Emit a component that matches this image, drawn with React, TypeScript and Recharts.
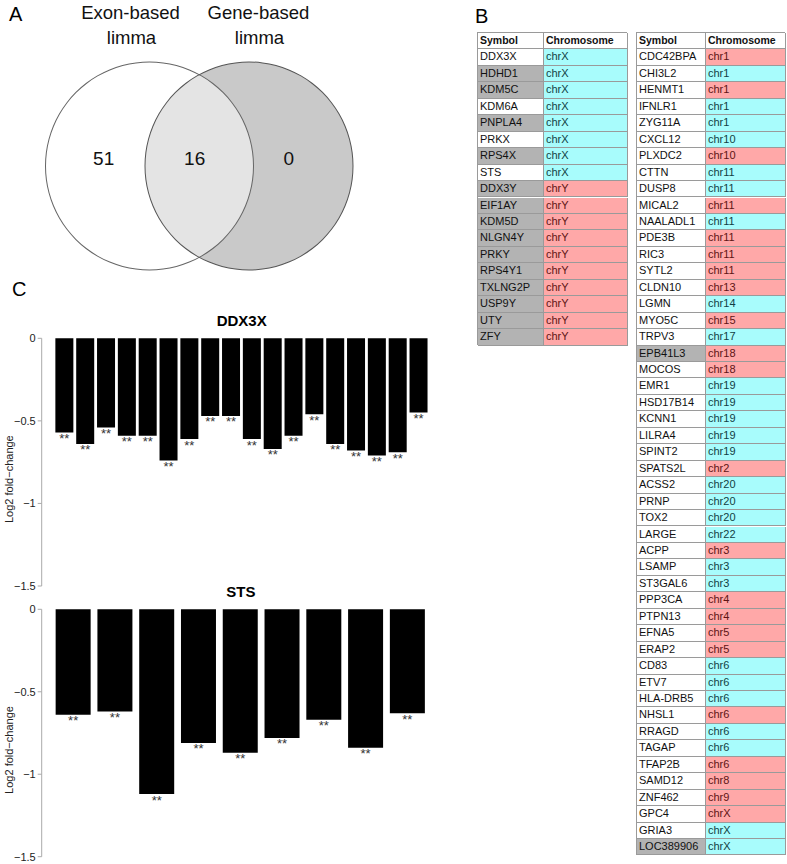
import React from 'react';
import { BarChart, Bar, XAxis, YAxis, LabelList, Label, PieChart, Pie, Cell } from 'recharts';

const FONT = '"Liberation Sans", Arial, Helvetica, sans-serif';

// ---------- Panel A: Venn ----------
const vennSetNames = ['Exon-based', 'Gene-based'];
const vennSetSub = ['limma', 'limma'];
const vennCounts = [51, 16, 0];

// ---------- Panel B: tables ----------
const leftSymbols = ['DDX3X', 'HDHD1', 'KDM5C', 'KDM6A', 'PNPLA4', 'PRKX', 'RPS4X', 'STS', 'DDX3Y', 'EIF1AY', 'KDM5D', 'NLGN4Y', 'PRKY', 'RPS4Y1', 'TXLNG2P', 'USP9Y', 'UTY', 'ZFY'];
const leftChromosomes = ['chrX', 'chrX', 'chrX', 'chrX', 'chrX', 'chrX', 'chrX', 'chrX', 'chrY', 'chrY', 'chrY', 'chrY', 'chrY', 'chrY', 'chrY', 'chrY', 'chrY', 'chrY'];
const leftTones = ['cyan', 'cyan', 'cyan', 'cyan', 'cyan', 'cyan', 'cyan', 'cyan', 'red', 'red', 'red', 'red', 'red', 'red', 'red', 'red', 'red', 'red'];

const rightSymbols = ['CDC42BPA', 'CHI3L2', 'HENMT1', 'IFNLR1', 'ZYG11A', 'CXCL12', 'PLXDC2', 'CTTN', 'DUSP8', 'MICAL2', 'NAALADL1', 'PDE3B', 'RIC3', 'SYTL2', 'CLDN10', 'LGMN', 'MYO5C', 'TRPV3', 'EPB41L3', 'MOCOS', 'EMR1', 'HSD17B14', 'KCNN1', 'LILRA4', 'SPINT2', 'SPATS2L', 'ACSS2', 'PRNP', 'TOX2', 'LARGE', 'ACPP', 'LSAMP', 'ST3GAL6', 'PPP3CA', 'PTPN13', 'EFNA5', 'ERAP2', 'CD83', 'ETV7', 'HLA-DRB5', 'NHSL1', 'RRAGD', 'TAGAP', 'TFAP2B', 'SAMD12', 'ZNF462', 'GPC4', 'GRIA3', 'LOC389906'];
const rightChromosomes = ['chr1', 'chr1', 'chr1', 'chr1', 'chr1', 'chr10', 'chr10', 'chr11', 'chr11', 'chr11', 'chr11', 'chr11', 'chr11', 'chr11', 'chr13', 'chr14', 'chr15', 'chr17', 'chr18', 'chr18', 'chr19', 'chr19', 'chr19', 'chr19', 'chr19', 'chr2', 'chr20', 'chr20', 'chr20', 'chr22', 'chr3', 'chr3', 'chr3', 'chr4', 'chr4', 'chr5', 'chr5', 'chr6', 'chr6', 'chr6', 'chr6', 'chr6', 'chr6', 'chr6', 'chr8', 'chr9', 'chrX', 'chrX', 'chrX'];
const rightTones = ['red', 'cyan', 'red', 'cyan', 'cyan', 'cyan', 'red', 'cyan', 'cyan', 'red', 'cyan', 'red', 'red', 'red', 'red', 'cyan', 'red', 'cyan', 'red', 'red', 'cyan', 'cyan', 'cyan', 'cyan', 'cyan', 'red', 'cyan', 'cyan', 'cyan', 'cyan', 'red', 'cyan', 'cyan', 'red', 'red', 'red', 'red', 'cyan', 'cyan', 'cyan', 'red', 'cyan', 'cyan', 'red', 'red', 'red', 'red', 'cyan', 'cyan'];

const sharedSymbols = ['HDHD1', 'KDM5C', 'PNPLA4', 'RPS4X', 'DDX3Y', 'EIF1AY', 'KDM5D', 'NLGN4Y', 'PRKY', 'RPS4Y1', 'TXLNG2P', 'USP9Y', 'UTY', 'ZFY', 'EPB41L3', 'LOC389906'];

// ---------- Panel C: bar charts ----------
const ddx3xSamples = ['S1', 'S2', 'S3', 'S4', 'S5', 'S6', 'S7', 'S8', 'S9', 'S10', 'S11', 'S12', 'S13', 'S14', 'S15', 'S16', 'S17', 'S18'];
const ddx3xValues = [-0.57, -0.64, -0.54, -0.59, -0.59, -0.74, -0.61, -0.47, -0.47, -0.61, -0.67, -0.59, -0.46, -0.64, -0.68, -0.71, -0.69, -0.45];
const ddx3xSig = ['**', '**', '**', '**', '**', '**', '**', '**', '**', '**', '**', '**', '**', '**', '**', '**', '**', '**'];

const stsSamples = ['S1', 'S2', 'S3', 'S4', 'S5', 'S6', 'S7', 'S8', 'S9'];
const stsValues = [-0.64, -0.62, -1.12, -0.81, -0.87, -0.78, -0.67, -0.84, -0.63];
const stsSig = ['**', '**', '**', '**', '**', '**', '**', '**', '**'];

const yTicks = [0, -0.5, -1, -1.5];
const yLabel = 'Log2 fold\u2212change';

const ddx3xData = ddx3xSamples.map((s, i) => ({ name: s, value: ddx3xValues[i], sig: ddx3xSig[i] }));
const stsData = stsSamples.map((s, i) => ({ name: s, value: stsValues[i], sig: stsSig[i] }));

const TONE_BG: Record<string, string> = { cyan: '#a8fcfc', red: '#ffa8a8' };
const TONE_FG: Record<string, string> = { cyan: '#123f44', red: '#5e1414' };
const ROW_H = 16.45;
const BORDER = '#9a9a9a';

function GeneTable(props: { left: number; top: number; symW: number; chrW: number; symbols: string[]; chroms: string[]; tones: string[] }) {
  const { left, top, symW, chrW, symbols, chroms, tones } = props;
  const cellBase: React.CSSProperties = {
    position: 'absolute',
    boxSizing: 'border-box',
    height: ROW_H,
    lineHeight: `${ROW_H - 1}px`,
    borderRight: `1px solid ${BORDER}`,
    borderBottom: `1px solid ${BORDER}`,
    paddingLeft: 2,
    whiteSpace: 'nowrap',
    overflow: 'hidden',
  };
  return (
    <div
      style={{
        position: 'absolute',
        left,
        top,
        width: symW + chrW,
        height: ROW_H * (symbols.length + 1),
        boxSizing: 'border-box',
        borderLeft: `1px solid ${BORDER}`,
        borderTop: `1px solid ${BORDER}`,
        fontFamily: FONT,
        fontSize: 11,
        color: '#111',
      }}
    >
      <div style={{ ...cellBase, left: 0, top: 0, width: symW, fontWeight: 'bold', fontSize: 10.5, background: '#fff' }}>Symbol</div>
      <div style={{ ...cellBase, left: symW, top: 0, width: chrW, fontWeight: 'bold', fontSize: 10.5, background: '#fff' }}>Chromosome</div>
      {symbols.map((s, i) => (
        <React.Fragment key={s}>
          <div
            style={{
              ...cellBase,
              left: 0,
              top: ROW_H * (i + 1),
              width: symW,
              background: sharedSymbols.includes(s) ? '#b3b3b3' : '#fff',
            }}
          >
            {s}
          </div>
          <div
            style={{
              ...cellBase,
              left: symW,
              top: ROW_H * (i + 1),
              width: chrW,
              background: TONE_BG[tones[i]],
              color: TONE_FG[tones[i]],
            }}
          >
            {chroms[i]}
          </div>
        </React.Fragment>
      ))}
    </div>
  );
}

const Stars = (p: any) => {
  const { x, y, width, height, value } = p;
  const bottom = Math.max(Number(y), Number(y) + Number(height));
  return (
    <text x={Number(x) + Number(width) / 2} y={bottom + 10.5} textAnchor="middle" fontSize={13} fill="#333" fontFamily={FONT}>
      {value}
    </text>
  );
};

const fmtTick = (v: number) => (v === 0 ? '0' : String(v).replace('-', '\u2212'));

function FoldChart(props: { data: any[]; title: string; top: number; marginTop: number; plotH: number; rightMargin: number; pad: { left: number; right: number } }) {
  const { data, title, top, marginTop, plotH, rightMargin, pad } = props;
  const W = 460;
  const H = 302;
  const axisW = 41.7;
  return (
    <div style={{ position: 'absolute', left: 0, top, width: W, height: H }}>
      <div
        style={{
          position: 'absolute',
          left: axisW,
          width: W - axisW - rightMargin,
          top: marginTop - 26,
          textAlign: 'center',
          fontFamily: FONT,
          fontWeight: 'bold',
          fontSize: 15,
          lineHeight: '18px',
          color: '#000',
        }}
      >
        {title}
      </div>
      <BarChart
        width={W}
        height={H}
        data={data}
        margin={{ top: marginTop, right: rightMargin, bottom: H - marginTop - plotH, left: 0 }}
        barCategoryGap="8%"
      >
        <XAxis
          dataKey="name"
          orientation="top"
          height={0}
          tick={false}
          tickLine={false}
          axisLine={{ stroke: '#aaaaaa', strokeWidth: 1 }}
          padding={pad}
        />
        <YAxis
          type="number"
          domain={[-1.5, 0]}
          ticks={yTicks}
          width={axisW}
          tickFormatter={fmtTick}
          tickSize={4}
          tickMargin={2}
          axisLine={{ stroke: '#aaaaaa', strokeWidth: 1 }}
          tickLine={{ stroke: '#aaaaaa', strokeWidth: 1 }}
          tick={{ fill: '#222', fontSize: 11, fontFamily: FONT }}
          interval={0}
        >
          <Label
            content={(lp: any) => {
              const vb = lp.viewBox || { x: 0, y: 0, width: 0, height: 0 };
              const cx = vb.x + 9;
              const cy = vb.y + vb.height / 2 + 17;
              return (
                <text
                  x={cx}
                  y={cy}
                  transform={`rotate(-90 ${cx} ${cy})`}
                  textAnchor="middle"
                  dominantBaseline="central"
                  fontSize={11}
                  fontFamily={FONT}
                  fill="#222"
                >
                  {yLabel}
                </text>
              );
            }}
          />
        </YAxis>
        <Bar dataKey="value" fill="#000" isAnimationActive={false}>
          <LabelList dataKey="sig" content={Stars} />
        </Bar>
      </BarChart>
    </div>
  );
}

const panelLetter = (ch: string, left: number, top: number) => (
  <div style={{ position: 'absolute', left, top, fontFamily: FONT, fontSize: 20, lineHeight: '20px', color: '#000' }}>{ch}</div>
);

const vennText = (txt: string, cx: number, cy: number, size: number) => (
  <div
    style={{
      position: 'absolute',
      left: cx - 80,
      width: 160,
      top: cy - size * 0.6,
      height: size * 1.2,
      lineHeight: `${size * 1.2}px`,
      textAlign: 'center',
      fontFamily: FONT,
      fontSize: size,
      color: '#111',
    }}
  >
    {txt}
  </div>
);

export default function App() {
  const leftCircle = [{ name: vennSetNames[0], value: 1 }];
  const rightCircle = [{ name: vennSetNames[1], value: 1 }];
  return (
    <div style={{ position: 'absolute', left: 0, top: 0, width: 787, height: 864, background: '#fff', overflow: 'hidden' }}>
      {/* Panel A */}
      <div style={{ position: 'absolute', left: 0, top: 0 }}>
        <PieChart width={400} height={290} margin={{ top: 0, right: 0, bottom: 0, left: 0 }}>
          <Pie data={rightCircle} dataKey="value" cx={249} cy={166} innerRadius={0} outerRadius={104} stroke="none" isAnimationActive={false}>
            <Cell fill="#c9c9c9" />
          </Pie>
          <Pie data={leftCircle} dataKey="value" cx={149.5} cy={166} innerRadius={0} outerRadius={104} stroke="none" isAnimationActive={false}>
            <Cell fill="#ffffff" fillOpacity={0.5} />
          </Pie>
          <Pie data={leftCircle} dataKey="value" cx={149.5} cy={166} innerRadius={103.5} outerRadius={104.5} stroke="none" isAnimationActive={false}>
            <Cell fill="#666666" />
          </Pie>
          <Pie data={rightCircle} dataKey="value" cx={249} cy={166} innerRadius={103.5} outerRadius={104.5} stroke="none" isAnimationActive={false}>
            <Cell fill="#555555" />
          </Pie>
        </PieChart>
      </div>
      {panelLetter('A', 9, 4)}
      {vennText(vennSetNames[0], 130.5, 13, 18.5)}
      {vennText(vennSetSub[0], 131.5, 38.5, 18.5)}
      {vennText(vennSetNames[1], 258.5, 13, 18.5)}
      {vennText(vennSetSub[1], 259.5, 38.5, 18.5)}
      {vennText(String(vennCounts[0]), 103.7, 159.5, 19)}
      {vennText(String(vennCounts[1]), 194.7, 159.5, 19)}
      {vennText(String(vennCounts[2]), 288.7, 159.5, 19)}

      {/* Panel B */}
      {panelLetter('B', 475, 6)}
      <GeneTable left={477} top={32} symW={66} chrW={84} symbols={leftSymbols} chroms={leftChromosomes} tones={leftTones} />
      <GeneTable left={636} top={32} symW={69} chrW={80} symbols={rightSymbols} chroms={rightChromosomes} tones={rightTones} />

      {/* Panel C */}
      {panelLetter('C', 12, 279)}
      <FoldChart data={ddx3xData} title="DDX3X" top={300} marginTop={38.3} plotH={247.7} rightMargin={18.3} pad={{ left: 12, right: 13 }} />
      <FoldChart data={stsData} title="STS" top={562} marginTop={47.3} plotH={247.4} rightMargin={20} pad={{ left: 10.6, right: 11.7 }} />
    </div>
  );
}
